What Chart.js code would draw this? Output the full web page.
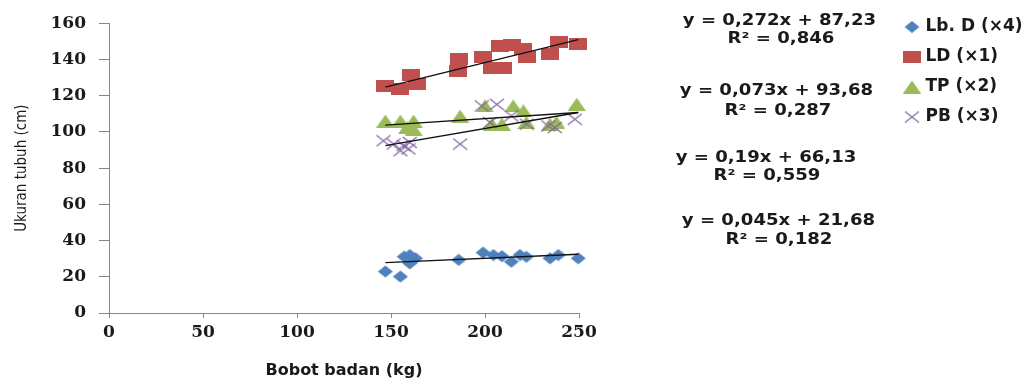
<!DOCTYPE html>
<html><head><meta charset="utf-8">
<script src="https://cdn.jsdelivr.net/npm/chart.js@4/dist/chart.umd.min.js"></script>
<style>html,body{margin:0;padding:0;background:#fff}</style>
</head><body>
<canvas id="c" width="1033" height="383"></canvas>
<script>
// ---- data ----
const lbdX = [147, 155, 157, 160, 163, 160, 186, 199, 204.5, 209, 214, 218.6, 222, 234.6, 239, 249.6];
const lbdY = [22.9, 20.1, 31.1, 32, 30.2, 27.4, 29.3, 33.3, 32, 31.4, 28.3, 32, 31, 30.2, 32, 30.2];

const ldX = [147, 155, 160.6, 163.8, 185.4, 186.3, 198.8, 203.6, 209.8, 208, 214.2, 220.4, 222.2, 234.6, 239.4, 249.6];
const ldY = [125.3, 123.5, 131.3, 126.2, 133.5, 140.5, 141.2, 135.3, 135.3, 147.3, 148.2, 146, 141.2, 143, 149.6, 148.5];

const tpX = [147, 155, 162, 158.5, 162, 186.8, 200, 203.6, 209, 215, 220.4, 222, 234.6, 238, 248.8];
const tpY = [106, 106, 106, 102.4, 101.5, 108.7, 114.3, 104.3, 104.3, 114.3, 111.6, 105.2, 104.3, 105.2, 115.3];

const pbX = [146, 151.4, 156.7, 160, 155, 159.3, 186.8, 198.3, 206.3, 202.7, 214, 222.2, 233.7, 237.2, 247.8];
const pbY = [95.1, 93.3, 92.4, 94.2, 89.6, 90.6, 93.3, 114.3, 115.2, 105.2, 108.8, 104.3, 103.3, 102.4, 107];

// trend line end points (as drawn in the picture)
const trendX = [147, 249.6];
const ldTrendY = [124.7, 150.9];
const tpTrendY = [103.7, 110.7];
const pbTrendY = [92.4, 110.7];
const lbdTrendY = [27.8, 32.4];

const seriesLabels = ['Lb. D (×4)', 'LD (×1)', 'TP (×2)', 'PB (×3)'];
const xTicks = [0, 50, 100, 150, 200, 250];
const yTicks = [0, 20, 40, 60, 80, 100, 120, 140, 160];
const eqText = ['y = 0,272x + 87,23', 'R² = 0,846', 'y = 0,073x + 93,68', 'R² = 0,287',
                'y = 0,19x + 66,13', 'R² = 0,559', 'y = 0,045x + 21,68', 'R² = 0,182'];

// ---- marker images ----
function marker(kind) {
  const c = document.createElement('canvas');
  const g = c.getContext('2d');
  if (kind === 'diamond') {
    c.width = 16; c.height = 13; 
    g.fillStyle = '#4F81BD';
    g.beginPath(); g.moveTo(8, 0.5); g.lineTo(15.5, 6.5); g.lineTo(8, 12.5); g.lineTo(0.5, 6.5); g.closePath(); g.fill();
  } else if (kind === 'square') {
    c.width = 18; c.height = 12;
    g.fillStyle = '#C0504D'; g.fillRect(0, 0, 18, 12);
  } else if (kind === 'triangle') {
    c.width = 18; c.height = 13;
    g.fillStyle = '#9BBB59';
    g.beginPath(); g.moveTo(9, 0); g.lineTo(18, 13); g.lineTo(0, 13); g.closePath(); g.fill();
  } else {
    c.width = 16; c.height = 13;
    g.strokeStyle = '#8064A2'; g.lineWidth = 1.1;
    g.beginPath(); g.moveTo(1, 1); g.lineTo(15, 12); g.moveTo(15, 1); g.lineTo(1, 12); g.stroke();
  }
  return c;
}

const pts = (xs, ys) => xs.map((x, i) => ({x, y: ys[i]}));
const scatterDs = (label, xs, ys, style, order) => ({
  label, data: pts(xs, ys), pointStyle: marker(style), pointRadius: 8, pointHoverRadius: 8,
  showLine: false, order, clip: false
});
const trendDs = (ys) => ({
  label: 'trend', data: pts(trendX, ys), showLine: true, borderColor: '#111', borderWidth: 1.4,
  pointRadius: 0, pointHoverRadius: 0, order: 0, fill: false, clip: false
});

const legendPlace = {
  id: 'legendPlace',
  beforeInit(chart) {
    const lg = chart.legend;
    const fit = lg.fit;
    lg.fit = function () { fit.call(this); this.width = 1033 - 579; };
  },
  afterLayout(chart) {
    const lg = chart.legend;
    lg.left = 894; lg.top = 5.5;
  }
};

const eqPlugin = {
  id: 'eqPlugin',
  afterDraw(chart) {
    const ctx = chart.ctx;
    const pos = [[779.5, 21], [781, 39], [776.5, 91], [778, 111], [766, 157.5], [767, 176], [778.5, 221], [779, 240]];
    ctx.save();
    ctx.font = 'bold 16px "DejaVu Sans"';
    ctx.fillStyle = '#1a1a1a';
    ctx.textAlign = 'center';
    ctx.textBaseline = 'middle';
    eqText.forEach((t, i) => {
      ctx.save(); ctx.translate(pos[i][0], pos[i][1]); ctx.scale(1.13, 1); ctx.fillText(t, 0, 0); ctx.restore();
    });
    ctx.restore();
  }
};

const bgPlugin = {
  id: 'bg', beforeDraw(chart) { const c = chart.ctx; c.save(); c.fillStyle = '#fff'; c.fillRect(0, 0, chart.width, chart.height); c.restore(); }
};

const tickFont = {family: '"DejaVu Serif"', size: 17, weight: 'bold'};

new Chart(document.getElementById('c'), {
  type: 'scatter',
  data: {
    datasets: [
      scatterDs(seriesLabels[0], lbdX, lbdY, 'diamond', 4),
      scatterDs(seriesLabels[1], ldX, ldY, 'square', 3),
      scatterDs(seriesLabels[2], tpX, tpY, 'triangle', 2),
      scatterDs(seriesLabels[3], pbX, pbY, 'cross', 1),
      trendDs(ldTrendY), trendDs(tpTrendY), trendDs(pbTrendY), trendDs(lbdTrendY)
    ]
  },
  options: {
    responsive: false, animation: false,
    layout: {padding: {top: 22, right: 0, bottom: 0, left: 0}},
    plugins: {
      tooltip: {enabled: false},
      legend: {
        position: 'right', align: 'start',
        labels: {
          usePointStyle: true, boxWidth: 10, boxHeight: 12, padding: 13,
          font: {family: '"DejaVu Sans"', size: 17, weight: 'bold'}, color: '#1a1a1a',
          filter: (item) => item.datasetIndex < 4,
          sort: (a, b) => a.datasetIndex - b.datasetIndex
        }
      }
    },
    scales: {
      x: {
        type: 'linear', min: 0, max: 250,
        afterBuildTicks: (s) => { s.ticks = xTicks.map(v => ({value: v})); },
        ticks: {font: tickFont, color: '#1a1a1a', padding: 4},
        grid: {drawOnChartArea: false, tickLength: 5, color: '#868686'},
        border: {color: '#868686', width: 1},
        title: {display: true, text: 'Bobot badan (kg)', color: '#1a1a1a',
                font: {family: '"DejaVu Sans"', size: 16, weight: 'bold'}, padding: {top: 0, bottom: 3}},
        afterFit: (s) => { s.height = 70; }
      },
      y: {
        type: 'linear', min: 0, max: 160,
        afterBuildTicks: (s) => { s.ticks = yTicks.map(v => ({value: v})); },
        ticks: {font: tickFont, color: '#1a1a1a', padding: 13},
        grid: {drawOnChartArea: false, tickLength: 10, color: '#868686'},
        border: {color: '#868686', width: 1},
        title: {display: true, text: 'Ukuran tubuh (cm)', color: '#1a1a1a',
                font: {family: '"Liberation Sans Narrow", "DejaVu Sans Condensed", "Liberation Sans", sans-serif', size: 15},
                padding: {top: 13, bottom: 0}},
        afterFit: (s) => { s.width = 109; }
      }
    }
  },
  plugins: [bgPlugin, legendPlace, eqPlugin]
});
</script>
</body></html>
